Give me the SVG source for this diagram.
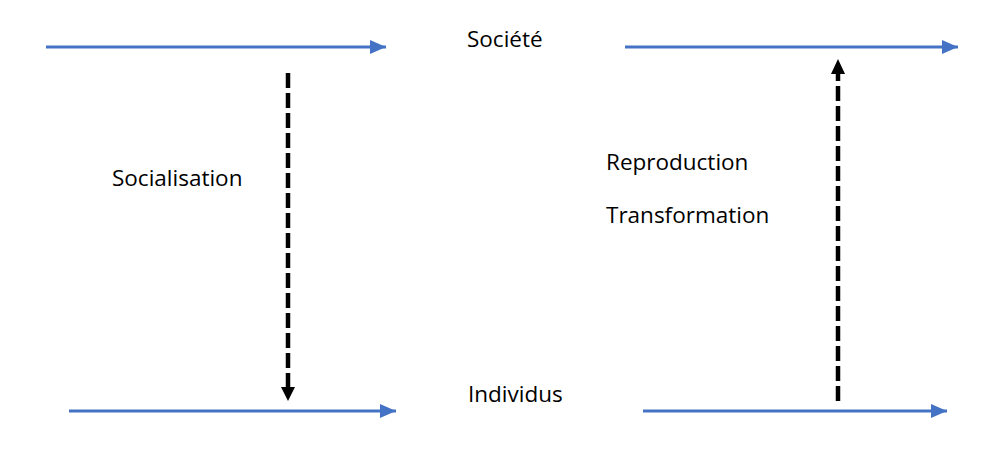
<svg xmlns="http://www.w3.org/2000/svg" width="983" height="459" viewBox="0 0 983 459">
<defs>
<style>
.flow{stroke:#4472C4;stroke-width:3;fill:none}
.dash{stroke:#000;stroke-width:4.5;stroke-dasharray:15 5;fill:none}
.lbl{font-family:"Open Sans","Liberation Sans",sans-serif;font-size:22.5px;fill:#000}
</style>
<marker id="ab" markerUnits="userSpaceOnUse" markerWidth="16" markerHeight="14" refX="16" refY="7" orient="auto"><path d="M0,0 L16,7 L0,14 Z" fill="#4472C4"/></marker>
</defs>
<rect width="983" height="459" fill="#fff"/>
<g id="connectors">
<line class="flow" x1="46" y1="47" x2="386" y2="47" marker-end="url(#ab)"/>
<line class="flow" x1="625" y1="47" x2="958" y2="47" marker-end="url(#ab)"/>
<line class="flow" x1="69" y1="411" x2="396" y2="411" marker-end="url(#ab)"/>
<line class="flow" x1="643" y1="411" x2="947" y2="411" marker-end="url(#ab)"/>
<line class="dash" x1="288" y1="73" x2="288" y2="388"/>
<path d="M281,387 L295,387 L288,401 Z" fill="#000"/>
<line class="dash" x1="838" y1="401" x2="838" y2="73"/>
<path d="M831,74 L845,74 L838,59 Z" fill="#000"/>
</g>
<g id="societe"><text class="lbl" x="467" y="47">Société</text></g>
<g id="individus"><text class="lbl" x="468" y="402">Individus</text></g>
<g id="socialisation"><text class="lbl" x="112" y="186">Socialisation</text></g>
<g id="reproduction"><text class="lbl" x="606" y="170">Reproduction</text></g>
<g id="transformation"><text class="lbl" x="606" y="223">Transformation</text></g>
</svg>
